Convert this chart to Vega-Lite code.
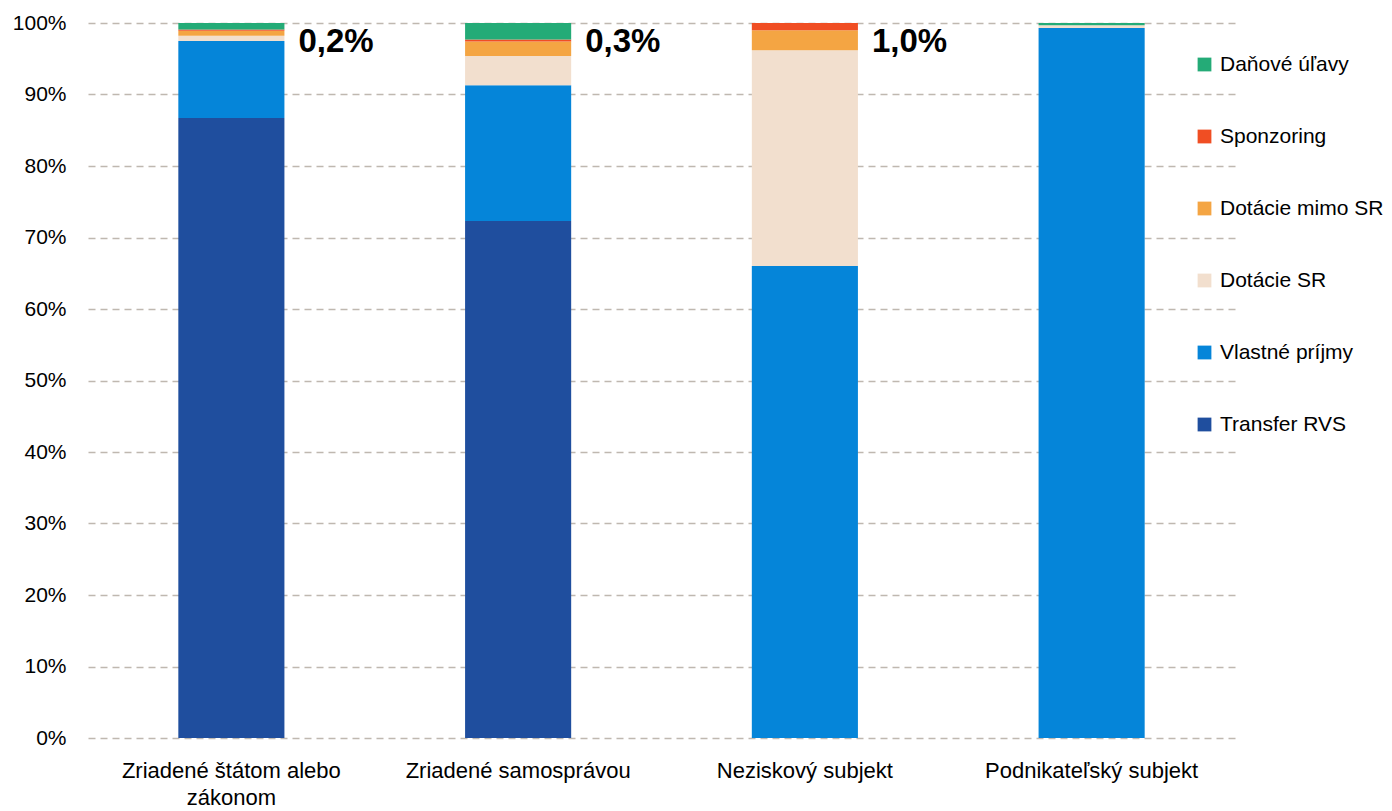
{
  "$schema": "https://vega.github.io/schema/vega-lite/v6.json",
  "width": 1147,
  "height": 715,
  "autosize": {"type": "none"},
  "padding": {"left": 88, "top": 23, "right": 157, "bottom": 73},
  "background": "white",
  "config": {
    "view": {"stroke": null},
    "font": "Liberation Sans"
  },
  "datasets": {
    "podiely": [
      {"typ": "Zriadené štátom alebo zákonom", "zdroj": "Transfer RVS", "podiel": 86.7},
      {"typ": "Zriadené štátom alebo zákonom", "zdroj": "Vlastné príjmy", "podiel": 10.8},
      {"typ": "Zriadené štátom alebo zákonom", "zdroj": "Dotácie SR", "podiel": 0.7},
      {"typ": "Zriadené štátom alebo zákonom", "zdroj": "Dotácie mimo SR", "podiel": 0.7},
      {"typ": "Zriadené štátom alebo zákonom", "zdroj": "Sponzoring", "podiel": 0.2},
      {"typ": "Zriadené štátom alebo zákonom", "zdroj": "Daňové úľavy", "podiel": 0.9},
      {"typ": "Zriadené samosprávou", "zdroj": "Transfer RVS", "podiel": 72.3},
      {"typ": "Zriadené samosprávou", "zdroj": "Vlastné príjmy", "podiel": 19.0},
      {"typ": "Zriadené samosprávou", "zdroj": "Dotácie SR", "podiel": 4.1},
      {"typ": "Zriadené samosprávou", "zdroj": "Dotácie mimo SR", "podiel": 2.0},
      {"typ": "Zriadené samosprávou", "zdroj": "Sponzoring", "podiel": 0.3},
      {"typ": "Zriadené samosprávou", "zdroj": "Daňové úľavy", "podiel": 2.3},
      {"typ": "Neziskový subjekt", "zdroj": "Transfer RVS", "podiel": 0},
      {"typ": "Neziskový subjekt", "zdroj": "Vlastné príjmy", "podiel": 66.0},
      {"typ": "Neziskový subjekt", "zdroj": "Dotácie SR", "podiel": 30.2},
      {"typ": "Neziskový subjekt", "zdroj": "Dotácie mimo SR", "podiel": 2.8},
      {"typ": "Neziskový subjekt", "zdroj": "Sponzoring", "podiel": 1.0},
      {"typ": "Neziskový subjekt", "zdroj": "Daňové úľavy", "podiel": 0},
      {"typ": "Podnikateľský subjekt", "zdroj": "Transfer RVS", "podiel": 0},
      {"typ": "Podnikateľský subjekt", "zdroj": "Vlastné príjmy", "podiel": 99.3},
      {"typ": "Podnikateľský subjekt", "zdroj": "Dotácie SR", "podiel": 0.4},
      {"typ": "Podnikateľský subjekt", "zdroj": "Dotácie mimo SR", "podiel": 0},
      {"typ": "Podnikateľský subjekt", "zdroj": "Sponzoring", "podiel": 0},
      {"typ": "Podnikateľský subjekt", "zdroj": "Daňové úľavy", "podiel": 0.3}
    ],
    "popisy": [
      {"typ": "Zriadené štátom alebo zákonom", "text": "0,2%", "y": 100},
      {"typ": "Zriadené samosprávou", "text": "0,3%", "y": 100},
      {"typ": "Neziskový subjekt", "text": "1,0%", "y": 100}
    ]
  },
  "layer": [
    {
      "data": {"name": "podiely"},
      "transform": [
        {"calculate": "indexof(['Transfer RVS','Vlastné príjmy','Dotácie SR','Dotácie mimo SR','Sponzoring','Daňové úľavy'], datum.zdroj)", "as": "poradie"}
      ],
      "mark": {"type": "bar"},
      "encoding": {
        "x": {
          "field": "typ",
          "type": "nominal",
          "sort": null,
          "scale": {"paddingInner": 0.63, "paddingOuter": 0.315},
          "axis": {
            "title": null,
            "labelAngle": 0,
            "labelFontSize": 22,
            "labelColor": "#000000",
            "labelPadding": 22,
            "labelLineHeight": 27,
            "labelBaseline": "top",
            "labelLimit": 400,
            "ticks": false,
            "domain": false,
            "labelExpr": "datum.value == 'Zriadené štátom alebo zákonom' ? ['Zriadené štátom alebo', 'zákonom'] : datum.value"
          }
        },
        "y": {
          "field": "podiel",
          "type": "quantitative",
          "stack": "zero",
          "scale": {"domain": [0, 100], "nice": false},
          "axis": {
            "title": null,
            "values": [0, 10, 20, 30, 40, 50, 60, 70, 80, 90, 100],
            "labelExpr": "datum.value + '%'",
            "labelFontSize": 21,
            "labelColor": "#000000",
            "labelPadding": 22,
            "ticks": false,
            "domain": false,
            "grid": true,
            "gridColor": "#bfb8b0",
            "gridDash": [7, 5],
            "gridWidth": 1.5
          }
        },
        "color": {
          "field": "zdroj",
          "type": "nominal",
          "scale": {
            "domain": ["Daňové úľavy", "Sponzoring", "Dotácie mimo SR", "Dotácie SR", "Vlastné príjmy", "Transfer RVS"],
            "range": ["#24ab77", "#f04e23", "#f4a543", "#f2dfce", "#0585d9", "#1f4e9e"]
          },
          "legend": {
            "title": null,
            "orient": "none",
            "legendX": 1106,
            "legendY": 31,
            "symbolType": "square",
            "symbolSize": 190,
            "symbolStrokeWidth": 0,
            "labelFontSize": 21,
            "labelColor": "#000000",
            "labelOffset": 5,
            "rowPadding": 50,
            "labelLimit": 300
          }
        },
        "order": {"field": "poradie", "type": "quantitative", "sort": "ascending"}
      }
    },
    {
      "data": {"name": "popisy"},
      "mark": {"type": "text", "fontSize": 33, "fontWeight": "bold", "align": "left", "baseline": "alphabetic", "dx": 67, "dy": 29, "color": "#000000"},
      "encoding": {
        "x": {"field": "typ", "type": "nominal", "sort": null},
        "y": {"field": "y", "type": "quantitative"},
        "text": {"field": "text"}
      }
    }
  ]
}
